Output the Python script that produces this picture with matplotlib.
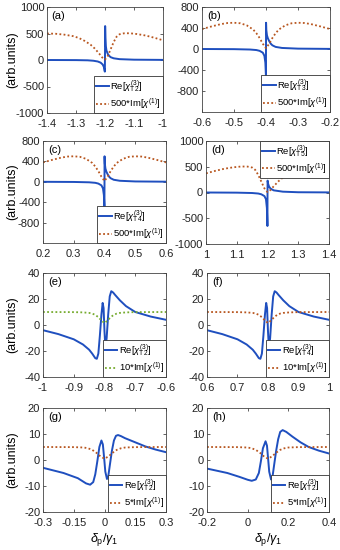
import matplotlib
matplotlib.use("Agg")
import matplotlib.pyplot as plt

plt.rcParams['font.family'] = ['Liberation Sans', 'DejaVu Sans']
plt.rcParams['mathtext.fontset'] = 'custom'
plt.rcParams['mathtext.rm'] = 'Liberation Sans'
plt.rcParams['mathtext.it'] = 'Liberation Sans:italic'
plt.rcParams['axes.unicode_minus'] = False

BLUE = '#1f4fbf'
BROWN = '#b8561f'
GREEN = '#77ac30'

# ---- (a) ----
a_re_x = [-1.4, -1.3, -1.26, -1.24, -1.225, -1.215, -1.208, -1.204, -1.2015, -1.2005,
          -1.2, -1.1995, -1.1985, -1.197, -1.195, -1.19, -1.185, -1.18, -1.17, -1.15, -1.1, -1.0]
a_re_y = [0, -2, -6, -14, -28, -50, -85, -130, -200, -220,
          100, 640, 420, 260, 180, 110, 75, 52, 32, 16, 6, 2]
a_im_x = [-1.4, -1.37, -1.34, -1.31, -1.29, -1.27, -1.25, -1.235, -1.22, -1.21, -1.2,
          -1.19, -1.18, -1.17, -1.16, -1.15, -1.135, -1.115, -1.09, -1.06, -1.03, -1.0]
a_im_y = [500, 495, 478, 450, 415, 360, 290, 215, 120, 50, 8,
          80, 210, 340, 440, 485, 503, 505, 490, 462, 420, 372]

# ---- (b) ----
b_re_x = [-0.6, -0.5, -0.45, -0.43, -0.42, -0.41, -0.405, -0.402, -0.4008, -0.4002,
          -0.4, -0.3998, -0.399, -0.397, -0.394, -0.39, -0.385, -0.38, -0.37, -0.35, -0.3, -0.2]
b_re_y = [0, -3, -10, -20, -35, -70, -130, -260, -420, -500,
          0, 500, 360, 260, 200, 150, 100, 70, 40, 20, 7, 2]
b_im_x = [-0.6, -0.57, -0.54, -0.52, -0.5, -0.48, -0.46, -0.44, -0.43, -0.42, -0.41, -0.4,
          -0.39, -0.38, -0.37, -0.36, -0.34, -0.32, -0.3, -0.28, -0.26, -0.23, -0.2]
b_im_y = [380, 430, 475, 495, 500, 490, 450, 370, 300, 210, 100, 15,
          100, 210, 300, 370, 450, 490, 500, 495, 475, 430, 380]

# ---- (c) ----
c_re_x = [0.2, 0.3, 0.35, 0.37, 0.38, 0.39, 0.395, 0.398, 0.3992, 0.3998,
          0.4, 0.4002, 0.401, 0.403, 0.406, 0.41, 0.415, 0.42, 0.43, 0.45, 0.5, 0.6]
c_re_y = [0, -3, -10, -20, -35, -70, -130, -260, -420, -500,
          0, 500, 360, 260, 200, 150, 100, 70, 40, 20, 7, 2]
c_im_x = [0.2, 0.23, 0.26, 0.28, 0.3, 0.32, 0.34, 0.36, 0.37, 0.38, 0.39, 0.4,
          0.41, 0.42, 0.43, 0.44, 0.46, 0.48, 0.5, 0.52, 0.54, 0.57, 0.6]
c_im_y = [380, 430, 475, 495, 500, 490, 450, 370, 300, 210, 100, 15,
          100, 210, 300, 370, 450, 490, 500, 495, 475, 430, 380]

# ---- (d) ----
d_re_x = [1.0, 1.1, 1.15, 1.17, 1.18, 1.19, 1.195, 1.198, 1.1992, 1.1998,
          1.2, 1.2003, 1.202, 1.205, 1.21, 1.22, 1.25, 1.3, 1.4]
d_re_y = [0, -3, -10, -20, -35, -70, -130, -300, -520, -650,
          -100, 230, 170, 115, 75, 42, 16, 5, 2]
d_im_x = [1.0, 1.03, 1.06, 1.09, 1.115, 1.135, 1.15, 1.16, 1.17, 1.18, 1.19, 1.2,
          1.21, 1.22, 1.235, 1.25, 1.27, 1.29, 1.31, 1.34, 1.37, 1.4]
d_im_y = [372, 420, 462, 490, 505, 503, 485, 440, 340, 210, 80, 8,
          50, 120, 215, 290, 360, 415, 450, 478, 495, 500]

# ---- (e) ----
e_re_x = [-1.0, -0.95, -0.9, -0.87, -0.85, -0.84, -0.83, -0.825, -0.82, -0.815, -0.81,
          -0.806, -0.803, -0.8, -0.797, -0.793, -0.788, -0.783, -0.778, -0.772, -0.765,
          -0.75, -0.73, -0.7, -0.65, -0.6]
e_re_y = [-4, -7, -11, -15, -19, -22, -25.5, -26, -22, -8, 8,
          17, 13, -5, -18, -10, 8, 22, 26, 25, 23,
          19, 14.5, 10, 6.5, 4]
e_im_x = [-1.0, -0.9, -0.87, -0.85, -0.84, -0.83, -0.82, -0.81, -0.8,
          -0.79, -0.78, -0.77, -0.76, -0.75, -0.73, -0.7, -0.6]
e_im_y = [10, 9.9, 9.7, 9.3, 8.8, 7.8, 6, 3.5, 1.5,
          3.5, 6, 7.8, 8.8, 9.3, 9.7, 9.9, 10]

# ---- (f) ----
f_re_x = [0.6, 0.65, 0.7, 0.73, 0.75, 0.76, 0.77, 0.775, 0.78, 0.785, 0.79,
          0.794, 0.797, 0.8, 0.803, 0.807, 0.812, 0.817, 0.822, 0.828, 0.835,
          0.85, 0.87, 0.9, 0.95, 1.0]
f_re_y = [-4, -7, -11, -15, -19, -22, -25.5, -26, -22, -8, 8,
          17, 13, -5, -18, -10, 8, 22, 26, 25, 23,
          19, 14.5, 10, 6.5, 4]
f_im_x = [0.6, 0.7, 0.73, 0.75, 0.76, 0.77, 0.78, 0.79, 0.8,
          0.81, 0.82, 0.83, 0.84, 0.85, 0.87, 0.9, 1.0]
f_im_y = [10, 9.9, 9.7, 9.3, 8.8, 7.8, 6, 3.5, 1.5,
          3.5, 6, 7.8, 8.8, 9.3, 9.7, 9.9, 10]

# ---- (g) ----
g_re_x = [-0.3, -0.2, -0.13, -0.09, -0.07, -0.055, -0.045, -0.035, -0.025, -0.015,
          -0.008, -0.002, 0.004, 0.012, 0.018, 0.026, 0.036, 0.046, 0.056, 0.066,
          0.08, 0.1, 0.15, 0.2, 0.25, 0.3]
g_re_y = [-3, -5, -7, -9, -9.5, -8.5, -5.5, -0.5, 5, 7.5,
          6, 1, -4.5, -7.3, -6.5, -2, 3.5, 7.5, 9.3, 9.6,
          9.2, 8.4, 6.8, 5.2, 4, 3]
g_im_x = [-0.3, -0.15, -0.1, -0.08, -0.06, -0.04, -0.02, 0.0,
          0.02, 0.04, 0.06, 0.08, 0.1, 0.15, 0.3]
g_im_y = [5, 4.95, 4.8, 4.5, 3.9, 2.8, 1.4, 0.5,
          1.4, 2.8, 3.9, 4.5, 4.8, 4.95, 5]

# ---- (h) ----
h_re_x = [-0.2, -0.1, -0.04, 0.0, 0.02, 0.04, 0.055, 0.065, 0.075, 0.088,
          0.095, 0.1, 0.106, 0.115, 0.122, 0.13, 0.14, 0.15, 0.16, 0.172,
          0.19, 0.22, 0.26, 0.3, 0.35, 0.4]
h_re_y = [-3.3, -5, -6.5, -7.6, -8, -7.5, -5, -0.5, 4.5, 7.2,
          5.5, 1, -4.5, -7.5, -6.5, -2, 3.5, 8, 10.8, 11.5,
          10.8, 9, 6.8, 5, 3.6, 2.5]
h_im_x = [-0.2, -0.05, 0.0, 0.02, 0.04, 0.06, 0.08, 0.1,
          0.12, 0.14, 0.16, 0.18, 0.2, 0.25, 0.4]
h_im_y = [5, 4.95, 4.8, 4.5, 3.9, 2.8, 1.4, 0.5,
          1.4, 2.8, 3.9, 4.5, 4.8, 4.95, 5]

W, H = 340, 550
fig = plt.figure(figsize=(W / 100, H / 100), dpi=100)


def make_ax(l, r, t, b):
    return fig.add_axes([l / W, 1 - b / H, (r - l) / W, (b - t) / H])


panels = [
    # tag, box, re, im, xlim, xticks, ylim, yticks, sub, scale, im colour, legend loc
    ('(a)', (47, 163, 7, 113), (a_re_x, a_re_y), (a_im_x, a_im_y), (-1.4, -1.0),
     [-1.4, -1.3, -1.2, -1.1, -1.0], (-1000, 1000), [-1000, -500, 0, 500, 1000],
     'T2', '500', BROWN, 'lower right'),
    ('(b)', (202, 330, 7, 112), (b_re_x, b_re_y), (b_im_x, b_im_y), (-0.6, -0.2),
     [-0.6, -0.5, -0.4, -0.3, -0.2], (-1200, 800), [-800, -400, 0, 400, 800],
     'T3', '500', BROWN, 'lower right'),
    ('(c)', (43, 166, 141, 243), (c_re_x, c_re_y), (c_im_x, c_im_y), (0.2, 0.6),
     [0.2, 0.3, 0.4, 0.5, 0.6], (-1200, 800), [-800, -400, 0, 400, 800],
     'T4', '500', BROWN, 'lower right'),
    ('(d)', (206, 329, 141, 244), (d_re_x, d_re_y), (d_im_x, d_im_y), (1.0, 1.4),
     [1.0, 1.1, 1.2, 1.3, 1.4], (-1000, 1000), [-1000, -500, 0, 500, 1000],
     'T5', '500', BROWN, 'upper right'),
    ('(e)', (43, 166, 273, 377), (e_re_x, e_re_y), (e_im_x, e_im_y), (-1.0, -0.6),
     [-1.0, -0.9, -0.8, -0.7, -0.6], (-40, 40), [-40, -20, 0, 20, 40],
     'T2', '10', GREEN, 'lower right'),
    ('(f)', (207, 329, 273, 377), (f_re_x, f_re_y), (f_im_x, f_im_y), (0.6, 1.0),
     [0.6, 0.7, 0.8, 0.9, 1.0], (-40, 40), [-40, -20, 0, 20, 40],
     'T4', '10', BROWN, 'lower right'),
    ('(g)', (43, 166, 408, 512), (g_re_x, g_re_y), (g_im_x, g_im_y), (-0.3, 0.3),
     [-0.3, -0.15, 0, 0.15, 0.3], (-20, 20), [-20, -10, 0, 10, 20],
     'T2', '5', BROWN, 'lower right'),
    ('(h)', (207, 329, 408, 512), (h_re_x, h_re_y), (h_im_x, h_im_y), (-0.2, 0.4),
     [-0.2, 0, 0.2, 0.4], (-20, 20), [-20, -10, 0, 10, 20],
     'T2', '5', BROWN, 'lower right'),
]

for (tag, box, re, im, xlim, xt, ylim, yt, sub, scale, imc, loc) in panels:
    ax = make_ax(*box)
    ax.plot(re[0], re[1], color=BLUE, lw=1.4,
            label=r'Re[$\chi^{(3)}_{\mathrm{%s}}$]' % sub)
    ax.plot(im[0], im[1], color=imc, lw=1.3, ls=(0, (1, 1.3)),
            label=r'%s*Im[$\chi^{(1)}$]' % scale)
    ax.set_xlim(*xlim)
    ax.set_ylim(*ylim)
    ax.set_xticks(xt)
    ax.set_xticklabels(['%g' % v for v in xt])
    ax.set_yticks(yt)
    ax.tick_params(direction='in', length=2.5, width=0.5, labelsize=8,
                   top=True, right=True, colors='#222222')
    ax.tick_params(axis='x', pad=4)
    ax.tick_params(axis='y', pad=2)
    for s in ax.spines.values():
        s.set_linewidth(0.6)
        s.set_color('#444444')
    ax.text(0.04, 0.96, tag, transform=ax.transAxes, fontsize=8,
            ha='left', va='top')
    leg = ax.legend(loc=loc, fontsize=6.8, borderaxespad=0, frameon=True,
                    fancybox=False, framealpha=1, edgecolor='#333333',
                    handlelength=1.3, handletextpad=0.2, borderpad=0.2,
                    labelspacing=0.25)
    leg.get_frame().set_linewidth(0.6)
    if box[0] < 100:
        fig.text(12 / W, 1 - (box[2] + box[3]) / 2 / H, '(arb.units)',
                 rotation=90, ha='center', va='center', fontsize=9)

for cx in (104.5, 268):
    fig.text(cx / W, 1 - 539 / H, r'$\delta_{\mathrm{p}}/\gamma_1$',
             ha='center', va='center', fontsize=9)

fig.savefig('out.png', dpi=100)
